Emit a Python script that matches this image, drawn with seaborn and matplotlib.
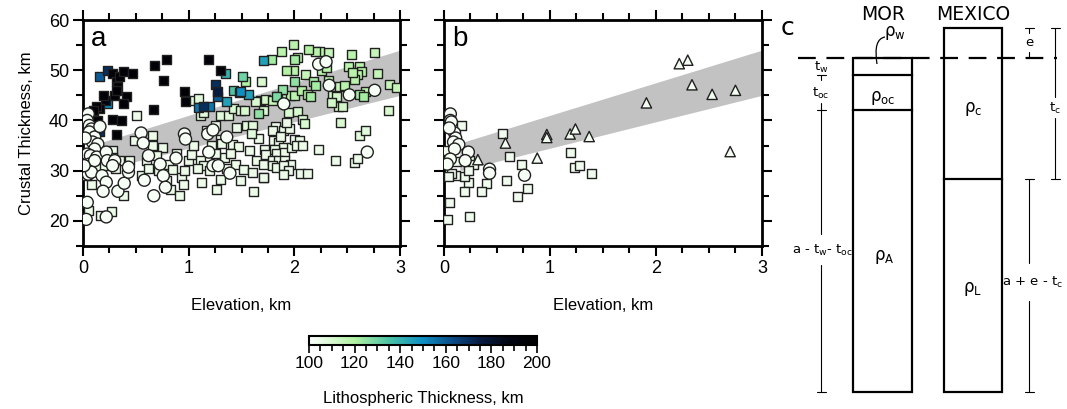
import numpy as np
import pandas as pd
import matplotlib
matplotlib.use("Agg")
import matplotlib.pyplot as plt
import seaborn as sns
from matplotlib.colors import LinearSegmentedColormap, Normalize
from matplotlib.cm import ScalarMappable
from matplotlib.ticker import MultipleLocator
from matplotlib.path import Path
from matplotlib.patches import PathPatch, Rectangle

sns.set_style("ticks", {"axes.edgecolor": "black", "xtick.color": "black",
                        "ytick.color": "black", "text.color": "black",
                        "axes.labelcolor": "black"})
plt.rcParams["font.family"] = ["Liberation Sans", "DejaVu Sans"]

# ---------------- data: panel a ----------------
# squares: elevation (km), crustal thickness (km), lithospheric thickness (km)
sq_a_x = [0.16, 0.23, 0.16, 0.19, 0.21, 0.23, 0.13, 0.14, 0.10, 0.28, 0.32, 0.33, 0.35, 0.38,
          0.30, 0.32, 0.41, 0.38, 0.28, 0.36, 0.32, 0.47, 0.68, 0.79, 0.76, 0.67, 0.96, 0.97,
          1.19, 1.30, 1.35, 1.25, 1.27, 1.27, 1.14, 1.09, 1.20, 1.36, 1.49, 1.57, 1.51, 1.54,
          1.71, 1.78, 1.88, 1.99, 2.00, 1.93, 1.99, 2.00, 1.89, 1.83, 1.66, 0.16, 1.42, 1.48,
          # pale squares
          0.08, 0.16, 0.13, 0.08, 0.05, 0.17, 0.27, 0.28, 0.28, 0.35, 0.44, 0.38, 0.03, 0.10,
          0.20, 0.31, 0.51, 0.49, 0.66, 0.66, 0.75, 0.71, 0.81, 0.85, 0.79, 0.83, 0.91, 0.93,
          0.96, 0.95, 1.00, 1.03, 0.60, 0.55, 0.70, 0.88, 0.62,
          1.04, 1.09, 1.11, 1.14, 1.17, 1.30, 1.31, 1.41, 1.47, 1.30, 1.38, 1.42, 1.49, 1.53,
          1.63, 1.11, 1.14, 1.12, 1.20, 1.26, 1.30, 1.34, 1.44, 1.52, 1.49, 1.60, 1.61, 1.55,
          1.60, 1.59, 1.72, 1.64, 1.71, 1.68, 1.69, 1.05, 1.08, 1.22, 1.25, 1.40, 1.36, 1.58,
          1.66, 1.25, 1.45,
          1.73, 1.79, 1.84, 1.71, 1.89, 1.96, 2.00, 1.94, 1.82, 1.90, 1.95, 1.79, 1.80, 1.85,
          1.90, 1.81, 1.83, 1.91, 1.73, 1.71, 1.79, 1.85, 1.91, 1.96, 1.79, 1.83, 1.90, 1.94,
          1.90, 1.71, 1.97, 2.00, 1.87, 1.93,
          2.24, 2.13, 2.20, 2.32, 2.03, 2.11, 2.26, 2.30, 2.54, 2.76, 2.51, 2.62, 2.64, 2.60,
          2.57, 2.79, 2.90, 2.97, 2.43, 2.47, 2.62, 2.67, 2.65, 2.36, 2.40, 2.42, 2.46, 2.44,
          2.89, 2.18, 2.20, 2.07, 2.15, 2.12, 2.32, 2.03, 2.08, 2.10, 2.05, 2.02, 2.08, 2.23,
          2.39, 2.57, 2.60, 2.62, 2.67, 2.06, 2.12, 2.55, 2.35]
sq_a_y = [42.3, 50.0, 48.7, 45.0, 44.0, 43.3, 42.7, 40.0, 42.0, 49.3, 47.7, 46.7, 48.7, 49.7,
          45.0, 46.0, 44.7, 43.3, 40.1, 39.9, 37.3, 49.3, 51.0, 52.1, 48.0, 42.1, 45.7, 43.7,
          52.1, 50.0, 49.3, 47.1, 45.7, 44.8, 42.8, 42.5, 42.8, 43.7, 45.7, 45.1, 48.8, 47.7,
          51.9, 52.1, 53.7, 55.1, 52.1, 50.0, 49.9, 47.7, 46.1, 44.7, 41.3, 37.8, 46.0, 45.6,
          33.3, 32.3, 30.7, 27.3, 22.1, 21.0, 21.9, 34.1, 32.7, 32.0, 32.0, 25.0, 29.0, 37.5,
          31.0, 30.5, 41.0, 36.0, 37.0, 35.0, 34.7, 30.0, 31.3, 30.3, 28.0, 26.3, 25.0, 28.7,
          30.0, 27.3, 32.0, 33.2, 32.0, 29.0, 33.0, 33.5, 30.5,
          44.0, 44.3, 41.0, 41.5, 38.0, 36.3, 35.5, 35.3, 34.8, 41.0, 41.0, 42.3, 42.0, 42.0,
          43.7, 32.0, 31.0, 27.7, 30.0, 26.3, 28.3, 32.7, 31.3, 30.3, 28.1, 29.7, 25.9, 39.0,
          39.0, 37.5, 34.3, 32.0, 28.7, 44.0, 47.8, 35.0, 30.5, 35.0, 33.5, 33.5, 30.5, 34.0,
          36.5, 39.0, 38.5,
          44.1, 44.0, 44.7, 42.0, 44.3, 45.0, 45.0, 41.5, 38.8, 38.0, 38.3, 38.0, 36.0, 35.7,
          34.7, 34.3, 33.5, 33.7, 33.2, 31.3, 32.0, 32.0, 32.1, 31.3, 31.0, 30.7, 31.0, 30.0,
          29.3, 28.7, 34.7, 36.3, 36.8, 39.5,
          53.7, 54.1, 53.7, 53.5, 52.5, 49.2, 50.0, 50.5, 53.2, 53.5, 50.7, 50.7, 49.7, 49.2,
          48.2, 49.3, 47.1, 46.5, 46.8, 47.0, 45.1, 45.7, 44.7, 45.0, 44.7, 42.7, 42.7, 39.5,
          42.0, 47.7, 47.0, 46.0, 44.7, 45.2, 47.9, 41.7, 40.1, 39.3, 36.0, 35.0, 35.0, 34.3,
          32.0, 31.7, 32.5, 37.0, 38.0, 29.5, 29.5, 49.5, 43.5]
sq_a_lt = [195, 170, 160, 195, 190, 150, 195, 195, 195, 195, 195, 195, 195, 195,
           195, 195, 195, 195, 195, 195, 195, 195, 195, 195, 195, 195, 195, 195,
           195, 195, 140, 170, 175, 160, 170, 155, 155, 145, 150, 145, 130, 120,
           145, 122, 118, 118, 122, 120, 118, 125, 125, 128, 125, 170, 135, 140,
           105, 105, 105, 105, 105, 105, 105, 105, 105, 105, 105, 105, 105, 105,
           105, 105, 105, 105, 105, 105, 105, 105, 105, 105, 105, 105, 105, 105,
           105, 105, 105, 105, 105, 105, 105, 105, 105,
           108, 108, 108, 108, 105, 105, 105, 105, 105, 108, 108, 110, 110, 110,
           110, 105, 105, 105, 105, 105, 105, 105, 105, 105, 105, 105, 105, 108,
           108, 108, 105, 105, 105, 108, 110, 105, 105, 105, 105, 105, 105, 105,
           105, 105, 105,
           112, 115, 120, 110, 115, 118, 118, 110, 105, 105, 105, 105, 105, 105,
           105, 105, 105, 105, 105, 105, 105, 105, 105, 105, 105, 105, 105, 105,
           105, 105, 105, 105, 105, 105,
           118, 120, 118, 115, 118, 115, 118, 118, 118, 115, 118, 118, 118, 118,
           118, 115, 115, 115, 115, 118, 122, 118, 122, 112, 112, 112, 112, 110,
           110, 122, 122, 120, 122, 120, 118, 110, 110, 110, 105, 105, 105, 105,
           105, 105, 105, 108, 108, 105, 105, 118, 112]

# circles (panel a)
ci_a_x = [0.05, 0.04, 0.06, 0.08, 0.06, 0.11, 0.09, 0.14, 0.11, 0.04, 0.07, 0.13, 0.06, 0.11,
          0.22, 0.23, 0.30, 0.28, 0.16, 0.05, 0.08, 0.18, 0.22, 0.19, 0.33, 0.39, 0.43, 0.43,
          0.04, 0.03, 0.22, 0.55, 0.57, 0.62, 0.58, 0.67, 0.73, 0.76, 0.78, 0.88, 0.96, 0.97,
          1.18, 1.23, 1.19, 1.23, 1.28, 1.36, 1.39, 1.90, 2.23, 2.30, 2.33, 2.52, 2.76, 2.69,
          0.02, 0.01]
ci_a_y = [41.3, 40.0, 39.0, 38.3, 37.7, 36.7, 35.7, 35.3, 34.3, 33.3, 33.0, 32.7, 31.3, 32.0,
          33.7, 32.0, 32.0, 31.0, 38.8, 29.3, 29.7, 29.0, 27.7, 25.9, 25.9, 27.5, 29.7, 30.7,
          23.7, 20.3, 20.8, 37.5, 35.5, 33.0, 28.1, 25.0, 31.3, 29.0, 26.7, 32.5, 37.3, 36.3,
          37.3, 38.1, 33.7, 31.0, 31.0, 36.7, 29.5, 43.3, 51.2, 51.7, 47.0, 45.1, 46.0, 33.7,
          36.5, 31.0]
ci_a_lt = [102] * len(ci_a_x)

# ---------------- data: panel b ----------------
tr_b_x = [2.22, 2.30, 2.34, 2.53, 2.75, 1.91, 2.70, 0.97, 0.97, 1.19, 1.24, 1.37, 0.88, 0.58, 0.32]
tr_b_y = [51.3, 52.0, 47.1, 45.2, 46.0, 43.5, 33.8, 37.2, 36.6, 37.3, 38.3, 36.8, 32.5, 35.5, 32.2]
sq_b_x = [0.17, 0.55, 0.62, 0.73, 0.59, 0.69, 0.79, 0.40, 0.35, 0.23, 0.19, 0.19, 0.24, 0.05,
          0.03, 0.11, 0.07, 0.04, 0.12, 0.24, 0.28, 0.23, 1.19, 1.23, 1.28, 1.39, 0.01]
sq_b_y = [38.9, 37.5, 32.9, 31.3, 28.0, 24.9, 26.5, 27.5, 25.9, 27.7, 25.8, 28.9, 20.8, 23.6,
          20.2, 29.1, 29.5, 28.9, 31.9, 32.0, 31.3, 30.0, 33.6, 30.7, 31.0, 29.5, 34.0]
ci_b_x = [0.06, 0.06, 0.07, 0.10, 0.11, 0.09, 0.14, 0.10, 0.06, 0.03, 0.23, 0.20, 0.43, 0.43,
          0.76, 0.05]
ci_b_y = [41.3, 40.0, 39.7, 37.5, 36.5, 35.7, 35.2, 34.3, 32.3, 31.3, 33.7, 32.0, 30.3, 29.5,
          29.1, 38.5]

# model band (same in both panels)
band_x = [0.15, 3.0]
band_lo = [30.0, 45.0]
band_hi = [35.5, 54.0]

# ---------------- data: panel c (schematic, depth below sea level) ----------------
mor_layers = [0, 17, 52, 334]      # sea level, sea floor, moho, compensation depth
mex_layers = [-30, 121, 334]       # surface (elevation e), moho, compensation depth

lith_ticks = [100, 120, 140, 160, 180, 200]

cmap = LinearSegmentedColormap.from_list(
    "lith", [(0.0, "#ffffff"), (0.2, "#b2f2a2"), (0.35, "#4cc3a6"), (0.5, "#0e8fc4"),
             (0.62, "#0b4f8a"), (0.75, "#071b42"), (0.88, "#020512"), (1.0, "#000000")])
norm = Normalize(100, 200)

fig = plt.figure(figsize=(10.67, 4.09), dpi=100)
ax_a = fig.add_axes([0.0778, 0.3985, 0.2971, 0.5526])
ax_b = fig.add_axes([0.4161, 0.3985, 0.2980, 0.5526])


def dots(ax, x, y, lt, marker, s):
    d = pd.DataFrame({"x": x, "y": y, "lt": lt}).sort_values("lt", kind="stable")
    sns.scatterplot(data=d, x="x", y="y", hue="lt", palette=cmap, hue_norm=norm,
                    marker=marker, s=s, edgecolor="#202020", linewidth=1.0,
                    legend=False, ax=ax, zorder=3)


for ax in (ax_a, ax_b):
    ax.fill_between(band_x, band_lo, band_hi, color="#c2c2c2", lw=0, zorder=1)

dots(ax_a, sq_a_x, sq_a_y, sq_a_lt, "s", 42)
dots(ax_a, ci_a_x, ci_a_y, ci_a_lt, "o", 75)

dots(ax_b, sq_b_x, sq_b_y, [104] * len(sq_b_x), "s", 42)
dots(ax_b, ci_b_x, ci_b_y, [102] * len(ci_b_x), "o", 75)
dots(ax_b, tr_b_x, tr_b_y, [103] * len(tr_b_x), "^", 55)

for ax, letter in ((ax_a, "a"), (ax_b, "b")):
    ax.set_xlim(0, 3)
    ax.set_ylim(15, 60)
    ax.xaxis.set_major_locator(MultipleLocator(1))
    ax.xaxis.set_minor_locator(MultipleLocator(0.25))
    ax.yaxis.set_major_locator(MultipleLocator(10))
    ax.yaxis.set_minor_locator(MultipleLocator(5))
    ax.tick_params(which="both", direction="out", top=True, right=True, width=1.5,
                   labelsize=13, pad=3)
    ax.tick_params(which="major", length=7)
    ax.tick_params(which="minor", length=5)
    for sp in ax.spines.values():
        sp.set_linewidth(2)
    ax.set_xlabel("Elevation, km", fontsize=12, labelpad=15)
    ax.set_ylabel("")
    ax.text(0.025, 0.975, letter, transform=ax.transAxes, ha="left", va="top", fontsize=20)

ax_a.set_ylabel("Crustal Thickness, km", fontsize=12, labelpad=11)
ax_b.tick_params(labelleft=False)

# colorbar
cax = fig.add_axes([0.2896, 0.1565, 0.2137, 0.022])
cb = fig.colorbar(ScalarMappable(norm=norm, cmap=cmap), cax=cax, orientation="horizontal")
cb.set_ticks(lith_ticks)
cax.xaxis.set_minor_locator(MultipleLocator(5))
cax.tick_params(which="both", direction="out", width=1.2, labelsize=12.5, pad=2)
cax.tick_params(which="major", length=6)
cax.tick_params(which="minor", length=4)
cb.outline.set_linewidth(1.5)
cb.set_label("Lithospheric Thickness, km", fontsize=12, labelpad=14)

# ---------------- panel c: schematic ----------------
ax_c = fig.add_axes([760 / 1067, 0, 307 / 1067, 1])
ax_c.set_xlim(0, 307)
ax_c.set_ylim(351, -58)
ax_c.axis("off")

mor_l, mor_r = 93, 152
mex_l, mex_r = 184, 242
box_kw = dict(color="black", lw=1.6, solid_capstyle="projecting")

ax_c.plot([38, 297], [0, 0], color="black", lw=1.6, dashes=(8, 4.8), zorder=1)

ax_c.add_patch(Rectangle((mor_l, mor_layers[0]), mor_r - mor_l, mor_layers[-1] - mor_layers[0],
                         fill=False, lw=1.6, ec="black", zorder=2))
for d in mor_layers[1:-1]:
    ax_c.plot([mor_l, mor_r], [d, d], **box_kw)
ax_c.add_patch(Rectangle((mex_l, mex_layers[0]), mex_r - mex_l, mex_layers[-1] - mex_layers[0],
                         fill=False, lw=1.6, ec="black", zorder=2))
for d in mex_layers[1:-1]:
    ax_c.plot([mex_l, mex_r], [d, d], **box_kw)

thin = dict(color="black", lw=0.8)


def cap(x, y):
    ax_c.plot([x - 4.5, x + 4.5], [y, y], **thin)


# left dimension bar (MOR)
bx = 61
cap(bx, mor_layers[1])
ax_c.plot([bx, bx], [mor_layers[1], 22], **thin)
ax_c.plot([bx, bx], [45, 176], **thin)
cap(bx, mor_layers[2])
ax_c.plot([bx, bx], [207, mor_layers[3]], **thin)
cap(bx, mor_layers[3])

# right dimension bars (MEXICO)
ex, tx = 269, 295
cap(ex, mex_layers[0])
ax_c.plot([ex, ex], [mex_layers[0], -25], **thin)
ax_c.plot([ex, ex], [-6, 0], **thin)
cap(tx, mex_layers[0])
ax_c.plot([tx, tx], [mex_layers[0], 39], **thin)
ax_c.plot([tx, tx], [60, mex_layers[1]], **thin)
cap(tx, mex_layers[1])
cap(ex, mex_layers[1])
ax_c.plot([ex, ex], [mex_layers[1], 205], **thin)
ax_c.plot([ex, ex], [243, mex_layers[2]], **thin)
cap(ex, mex_layers[2])

# rho_w leader
leader = Path([(125, -21), (113, -19), (117, 6)], [Path.MOVETO, Path.CURVE3, Path.CURVE3])
ax_c.add_patch(PathPatch(leader, fill=False, lw=0.9, ec="black"))

cf = ["DejaVu Sans"]
ax_c.text(123, -44, "MOR", ha="center", va="center", fontsize=13.5, family=cf)
ax_c.text(213, -44, "MEXICO", ha="center", va="center", fontsize=13.5, family=cf)
ax_c.text(27, -30, "c", ha="center", va="center", fontsize=18, family=cf)

rho = dict(ha="center", va="center", fontsize=12, family=cf)
ax_c.text(135, -25, r"ρ$_{\mathrm{w}}$", **rho)
ax_c.text(123, 40, r"ρ$_{\mathrm{oc}}$", **rho)
ax_c.text(124, 199, r"ρ$_{\mathrm{A}}$", **rho)
ax_c.text(213, 51, r"ρ$_{\mathrm{c}}$", **rho)
ax_c.text(213, 231, r"ρ$_{\mathrm{L}}$", **rho)

lab = dict(ha="center", va="center", fontsize=9.5, family=cf)
ax_c.text(bx, 9, r"t$_{\mathrm{w}}$", **lab)
ax_c.text(bx, 35, r"t$_{\mathrm{oc}}$", **lab)
ax_c.text(63, 192, r"a - t$_{\mathrm{w}}$- t$_{\mathrm{oc}}$", **lab)
ax_c.text(ex, -15, "e", **lab)
ax_c.text(tx, 50, r"t$_{\mathrm{c}}$", **lab)
ax_c.text(272, 224, r"a + e - t$_{\mathrm{c}}$", **lab)

fig.savefig("out.png", dpi=100)
